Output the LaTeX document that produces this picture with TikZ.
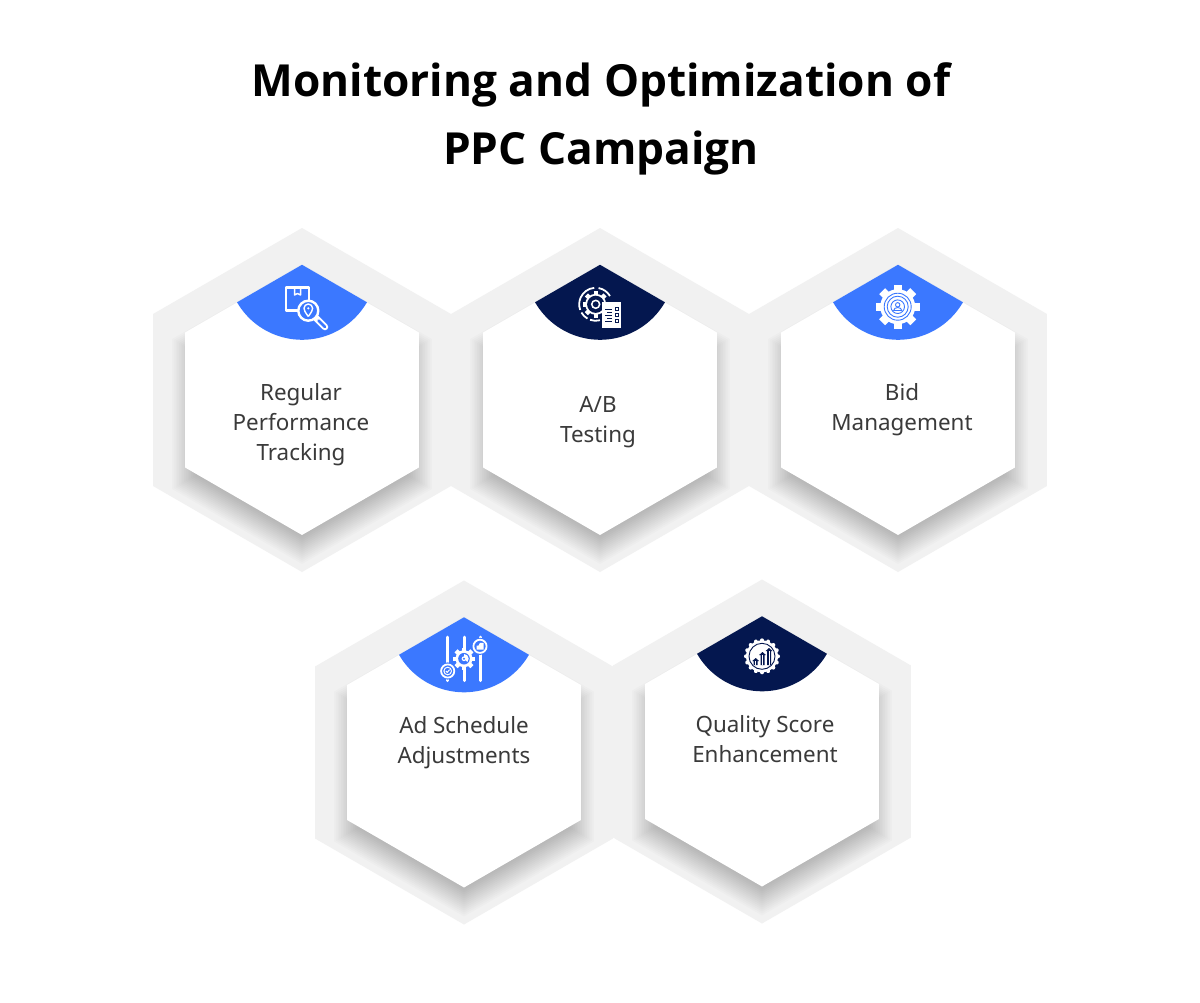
\documentclass[tikz,border=0pt]{standalone}
\usepackage{fontspec}
\setmainfont{Noto Sans}
\newfontfamily\titlefont{Open Sans}
\usetikzlibrary{shapes.geometric}
\definecolor{hexgrey}{HTML}{F1F1F1}
\definecolor{capblue}{HTML}{3B78FF}
\definecolor{capnavy}{HTML}{04174F}
\definecolor{labelgrey}{HTML}{3A3A3A}
% x, y, body radius, tooth top radius, teeth, tooth half width
\newcommand{\gearfill}[6]{%
  \fill[white] (#1,#2) circle (#3);
  \pgfmathsetmacro{\gearstep}{360/#5}
  \foreach \i in {1,...,#5}
    \fill[white,shift={(#1,#2)},rotate=\i*\gearstep] (-#6,0) rectangle (#6,#4);
}
\begin{document}
\begin{tikzpicture}[x=1pt,y=1pt,node distance=298pt,
  outerhex/.style={regular polygon,regular polygon sides=6,shape border rotate=30,
    fill=hexgrey,inner sep=0pt,minimum size=344pt},
  innerhex/.style={regular polygon,regular polygon sides=6,shape border rotate=30,
    fill=white,inner sep=0pt,minimum size=270pt},
  hexshadow/.style={regular polygon,regular polygon sides=6,shape border rotate=30,
    fill=black,fill opacity=0.016,inner sep=0pt},
  title/.style={font=\titlefont\fontsize{44.2}{68}\selectfont\bfseries,align=center,text=black},
  hexlabel/.style={font=\fontsize{22.4}{30}\selectfont,align=center,text=labelgrey},
  iconline/.style={draw=white,line width=2.1pt,line join=round}]

  \useasboundingbox[fill=white] (0,0) rectangle (1200,-1002);

  \node[title] (t) at (601,-119) {Monitoring and Optimization of\\PPC Campaign};

  \node[outerhex] (o1) at (302,-400) {};
  \node[outerhex] (o2) [right of=o1] {};
  \node[outerhex] (o3) [right of=o2] {};
  \node[outerhex] (o4) at (464,-752.5) {};
  \node[outerhex] (o5) at (762,-751.5) {};

  % soft shadow under the white faces
  \foreach \n in {o1,o2,o3,o4,o5}
    \foreach \s in {240,244,...,300}
      \node[hexshadow,minimum size=\s pt] at ([yshift=-14pt]\n) {};

  \node[innerhex] (h1) at (o1) {};
  \node[innerhex] (h2) at (o2) {};
  \node[innerhex] (h3) at (o3) {};
  \node[innerhex] (h4) at (o4) {};
  \node[innerhex] (h5) at (o5) {};

  \fill[capblue] (h1.north) -- ++(210:75) arc (210:330:75) -- cycle;
  \fill[capnavy] (h2.north) -- ++(210:75) arc (210:330:75) -- cycle;
  \fill[capblue] (h3.north) -- ++(210:75) arc (210:330:75) -- cycle;
  \fill[capblue] (h4.north) -- ++(210:75) arc (210:330:75) -- cycle;
  \fill[capnavy] (h5.north) -- ++(210:75) arc (210:330:75) -- cycle;

  \node[hexlabel] (l1) at (301,-425) {Regular\\Performance\\Tracking};
  \node[hexlabel] (l2) at (598,-422) {A/B\\Testing};
  \node[hexlabel] (l3) at (902,-410) {Bid\\Management};
  \node[hexlabel] (l4) at (464,-743) {Ad Schedule\\Adjustments};
  \node[hexlabel] (l5) at (765,-739) {Quality Score\\Enhancement};

  % parcel and magnifier
  \draw[iconline] (286,-287.5) rectangle (309,-310.5);
  \draw[iconline,line width=1.5pt] (294.5,-288) -- (294.5,-295) -- (297.5,-293.5) -- (300.5,-295) -- (300.5,-288);
  \draw[white,line cap=round,line width=6.5pt] (316.5,-318.5) -- (325,-327);
  \draw[capblue,line cap=round,line width=2.8pt] (318.5,-320.5) -- (325,-327);
  \draw[iconline,line width=2.4pt,fill=capblue] (308.3,-310.7) circle (10);
  \draw[iconline,line width=1.4pt] (308.3,-316.5) .. controls (305,-312) and (304,-310) .. (304,-308.3)
    arc (180:0:4.3) .. controls (312.6,-310) and (311.6,-312) .. (308.3,-316.5);
  \fill[white] (308.3,-308.3) circle (1.2);

  % gear with report sheet
  \foreach \a/\b in {30/80,95/200,210/240,250/285}
    \draw[iconline,line width=1.8pt] ([shift={(\a:16.5)}]595.7,-304.3) arc (\a:\b:16.5);
  \gearfill{595.7}{-304.3}{10.5}{13.2}{8}{2.2}
  \fill[capnavy] (595.7,-304.3) circle (8.6);
  \fill[white] (595.7,-304.3) circle (4.8);
  \fill[capnavy] (595.7,-304.3) circle (3);
  \fill[white] (602.3,-302.3) rectangle (620.7,-328.3);
  \foreach \y in {-309,-315,-321} {
    \draw[capnavy,line width=1pt] (605,\y) -- (612,\y);
    \draw[capnavy,line width=0.8pt] (615,\y+1.5) rectangle (618.5,\y-1.5);
  }
  \draw[capnavy,line width=1pt] (607,-312) -- (612,-312);
  \draw[capnavy,line width=1pt] (607,-318) -- (612,-318);

  % gear with person
  \gearfill{897.7}{-306.7}{17.5}{22}{8}{4.2}
  \draw[capblue,line width=0.9pt] (897.7,-306.7) circle (13.5);
  \draw[capblue,line width=0.9pt] (897.7,-306.7) circle (10.5);
  \draw[capblue,line width=0.9pt] (897.7,-306.7) circle (6.8);
  \draw[capblue,line width=0.9pt] (897.7,-304.8) circle (2.2);
  \draw[capblue,line width=0.9pt] (893.7,-310.5) arc (180:0:4 and 3) -- cycle;

  % sliders
  \foreach \x in {447.7,464,480}
    \draw[white,line width=3pt,line cap=round] (\x,-637) -- (\x,-680.5);
  \fill[capblue] (447.7,-671) circle (8.6);
  \draw[iconline,line width=1.8pt] (447.7,-671) circle (6.6);
  \draw[iconline,line width=1pt] (447.7,-671) circle (3.8);
  \draw[white,line width=1pt] (445.9,-671) -- (447.2,-672.4) -- (449.6,-669.6);
  \fill[capblue] (480,-646.3) circle (8.6);
  \draw[iconline,line width=1.8pt,fill=capblue] (480,-646.3) circle (6.6);
  \fill[white] (476.5,-649.5) -- (476.5,-645.5) -- (478.5,-645.5) -- (480,-642.8) -- (483.5,-642.8) -- (483.5,-649.5) -- cycle;
  \gearfill{464}{-658.7}{8.5}{11.2}{8}{2.2}
  \fill[capblue] (464,-658.7) circle (5.8);
  \fill[white] (464,-658.7) -- (464,-654) arc (90:-45:4.7) -- cycle;
  \fill[white] (464,-658.7) circle (2.4);
  \fill[capblue] (464,-658.7) circle (1.2);

  % badge with rising arrows
  \fill[white] (762,-656.3) circle (16);
  \foreach \a in {0,22.5,...,337.5}
    \fill[white,shift={(762,-656.3)},rotate=\a] (0,16) circle (2);
  \draw[capnavy,line width=0.9pt] (762,-656.3) circle (13);
  \foreach \x/\t in {755.7/-658,762.5/-652,769/-648} {
    \fill[capnavy] (\x-2,-665) -- (\x-2,\t-3) -- (\x-3.4,\t-3) -- (\x,\t) -- (\x+3.4,\t-3) -- (\x+2,\t-3) -- (\x+2,-665) -- cycle;
    \draw[white,line width=0.8pt] (\x,\t-3) -- (\x,-665);
  }
\end{tikzpicture}
\end{document}
